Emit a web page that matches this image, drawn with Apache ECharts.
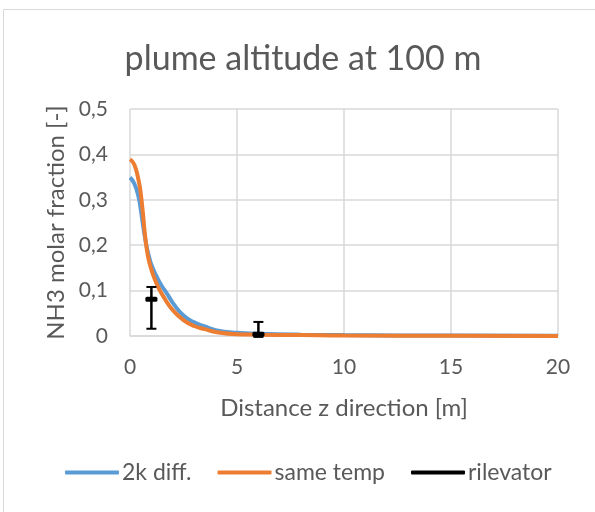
<!DOCTYPE html>
<html>
<head>
<meta charset="utf-8">
<script src="https://cdn.jsdelivr.net/npm/echarts@6/dist/echarts.min.js"></script>
<style>
  html, body { margin: 0; padding: 0; background: #ffffff; }
  #chart { width: 595px; height: 512px; }
</style>
</head>
<body>
<div id="chart"></div>
<script>
// Distance along z [m] at which the simulated profiles are sampled
const distance = [0, 0.2, 0.4, 0.5, 0.6, 0.7, 0.8, 0.9, 1.0, 1.2, 1.4, 1.6, 1.8, 2.0, 2.5, 3.0, 3.5, 4, 5, 6, 8, 10, 15, 20];
// NH3 molar fraction, simulation with 2 K temperature difference
const diff2k = [0.349, 0.336, 0.306, 0.280, 0.247, 0.217, 0.192, 0.173, 0.157, 0.135, 0.117, 0.102, 0.088, 0.073, 0.045, 0.030, 0.021, 0.013, 0.007, 0.005, 0.003, 0.002, 0.001, 0.0005];
// NH3 molar fraction, simulation with equal temperature
const sameTemp = [0.389, 0.378, 0.343, 0.315, 0.272, 0.223, 0.186, 0.163, 0.146, 0.120, 0.100, 0.084, 0.069, 0.057, 0.035, 0.022, 0.015, 0.009, 0.004, 0.003, 0.002, 0.001, 0.0005, 0.0];
// Measurements (rilevator): position, mean and min/max range
const measX = [1, 6];
const measY = [0.081, 0.004];
const measLow = [0.016, -0.002];
const measHigh = [0.108, 0.031];

const yTicks = ['0', '0,1', '0,2', '0,3', '0,4', '0,5'];

const FONT = 'Lato, "Open Sans", sans-serif';
const TXT = '#595959';
const GRID = '#D9D9D9';

const chart = echarts.init(document.getElementById('chart'), null, { renderer: 'canvas' });

const measData = measX.map((x, i) => [x, measY[i], measLow[i], measHigh[i]]);

chart.setOption({
  animation: false,
  backgroundColor: '#ffffff',
  textStyle: { fontFamily: FONT },
  title: {
    text: 'plume altitude at 100 m',
    left: 298,
    top: 37,
    textAlign: 'center',
    textStyle: { fontFamily: FONT, fontSize: 34, fontWeight: 'normal', color: TXT }
  },
  graphic: [{
    type: 'rect',
    shape: { x: 3.5, y: 9.5, width: 620, height: 620 },
    style: { fill: 'none', stroke: GRID, lineWidth: 1 },
    silent: true
  }],
  legend: {
    left: 60,
    top: 456,
    itemWidth: 54,
    itemHeight: 4,
    itemGap: 26,
    textStyle: { fontFamily: FONT, fontSize: 23, color: TXT, padding: [0, 0, 0, -2] },
    data: [
      { name: '2k diff.', icon: 'roundRect' },
      { name: 'same temp', icon: 'roundRect' },
      { name: 'rilevator', icon: 'roundRect' }
    ]
  },
  grid: { left: 130, right: 37, top: 109, bottom: 176, containLabel: false },
  xAxis: {
    type: 'value',
    min: 0, max: 20, interval: 5,
    name: 'Distance z direction [m]',
    nameLocation: 'middle',
    nameGap: 60,
    nameTextStyle: { fontFamily: FONT, fontSize: 24, color: TXT },
    axisLine: { show: true, lineStyle: { color: GRID, width: 1.5 } },
    axisTick: { show: false },
    axisLabel: { fontFamily: FONT, fontSize: 21, color: TXT, margin: 21 },
    splitLine: { show: true, lineStyle: { color: GRID, width: 1.5 } }
  },
  yAxis: {
    type: 'value',
    min: 0, max: 0.5, interval: 0.1,
    name: 'NH3 molar fraction [-]',
    nameLocation: 'middle',
    nameGap: 50,
    nameTextStyle: { fontFamily: FONT, fontSize: 24, color: TXT },
    axisLine: { show: false },
    axisTick: { show: false },
    axisLabel: {
      fontFamily: FONT, fontSize: 21, color: TXT, margin: 22,
      formatter: (v) => yTicks[Math.round(v * 10)]
    },
    splitLine: { show: true, lineStyle: { color: GRID, width: 1.5 } }
  },
  series: [
    {
      name: '2k diff.',
      type: 'line',
      smooth: 0.5,
      showSymbol: false,
      color: '#5B9BD5',
      lineStyle: { width: 4, color: '#5B9BD5' },
      data: distance.map((x, i) => [x, diff2k[i]]),
      z: 2
    },
    {
      name: 'same temp',
      type: 'line',
      smooth: 0.5,
      showSymbol: false,
      color: '#ED7D31',
      lineStyle: { width: 4, color: '#ED7D31' },
      data: distance.map((x, i) => [x, sameTemp[i]]),
      z: 3
    },
    {
      name: 'rilevator',
      type: 'custom',
      color: '#000000',
      itemStyle: { color: '#000000' },
      clip: false,
      z: 5,
      data: measData,
      renderItem: function (params, api) {
        const x = api.value(0);
        const mid = api.coord([x, api.value(1)]);
        const lo = api.coord([x, api.value(2)]);
        const hi = api.coord([x, api.value(3)]);
        const cap = 5;
        const capStyle = { stroke: '#000000', lineWidth: 2 };
        return {
          type: 'group',
          children: [
            { type: 'line', shape: { x1: mid[0], y1: lo[1], x2: mid[0], y2: hi[1] }, style: { stroke: '#000000', lineWidth: 2.5 } },
            { type: 'line', shape: { x1: mid[0] - cap, y1: hi[1], x2: mid[0] + cap, y2: hi[1] }, style: capStyle },
            { type: 'line', shape: { x1: mid[0] - cap, y1: lo[1], x2: mid[0] + cap, y2: lo[1] }, style: capStyle },
            { type: 'rect', shape: { x: mid[0] - 6, y: mid[1] - 2.5, width: 12, height: 5, r: 1.5 }, style: { fill: '#000000' } }
          ]
        };
      }
    }
  ]
});
</script>
</body>
</html>
